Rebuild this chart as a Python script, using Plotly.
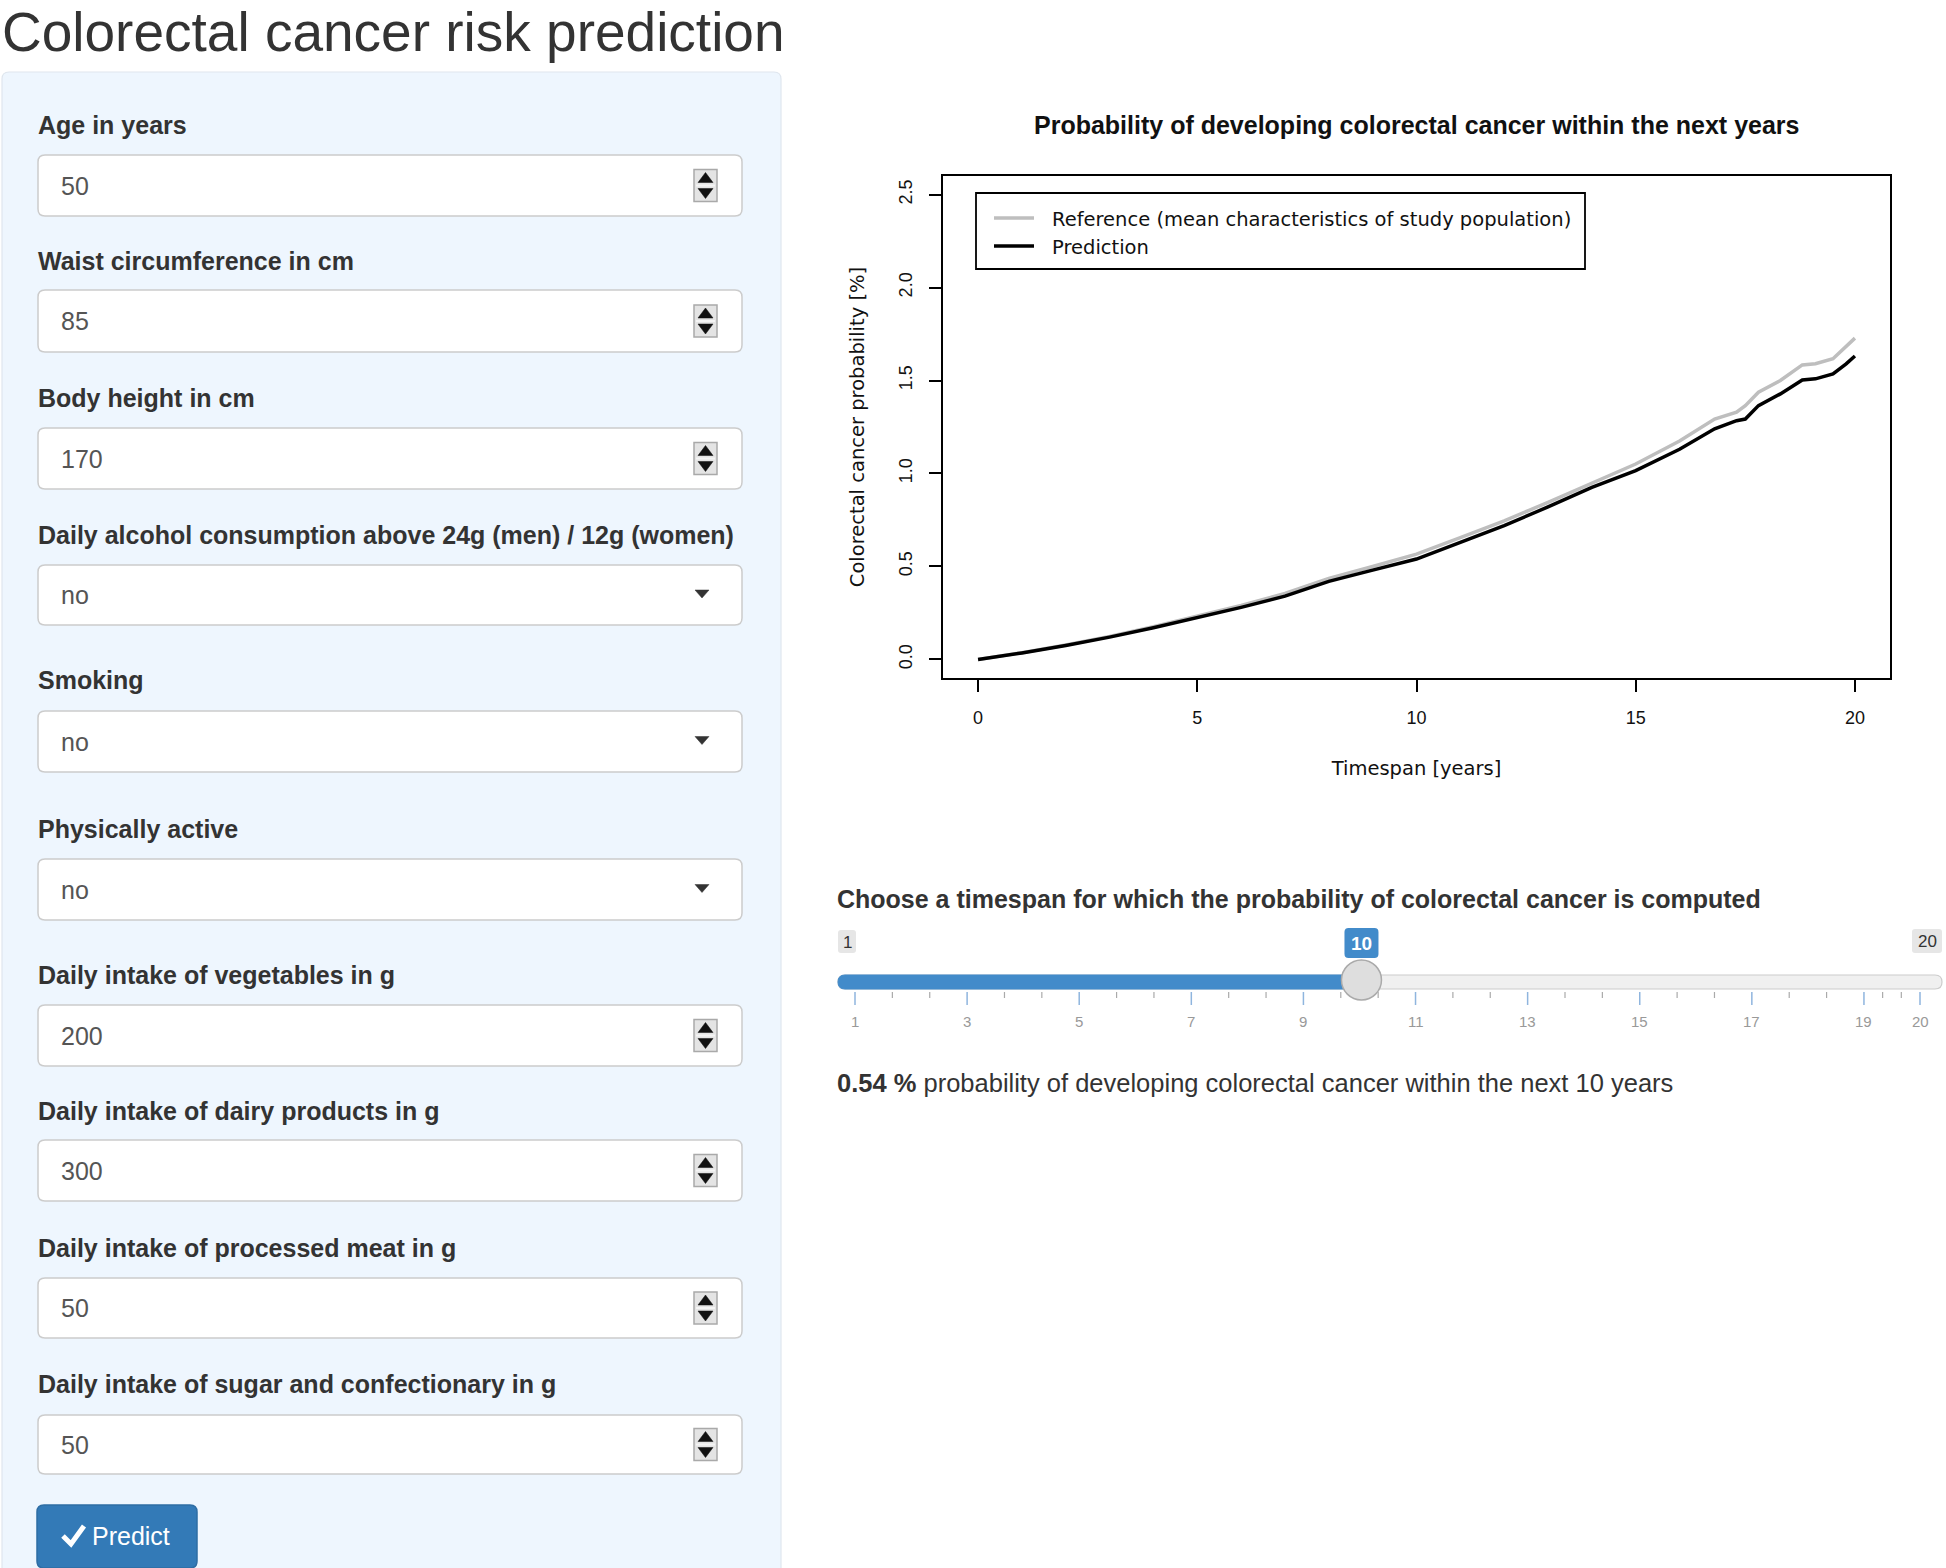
import plotly.graph_objects as go

# ---------------- data ----------------
years = [0, 1, 2, 3, 4, 5, 6, 7, 8, 9, 10, 11, 12, 13, 14, 15, 16, 16.8, 17.3, 17.5, 17.8, 18.3, 18.8, 19.1, 19.5, 19.8, 20]
prediction = [0.00, 0.035, 0.075, 0.12, 0.17, 0.225, 0.28, 0.34, 0.42, 0.48, 0.54, 0.63, 0.72, 0.82, 0.925, 1.015,
              1.13, 1.24, 1.284, 1.293, 1.365, 1.428, 1.503, 1.509, 1.536, 1.59, 1.632]
reference = [0.00, 0.036, 0.078, 0.124, 0.176, 0.232, 0.29, 0.355, 0.435, 0.50, 0.566, 0.655, 0.745, 0.845, 0.95, 1.051,
             1.175, 1.293, 1.33, 1.365, 1.437, 1.50, 1.584, 1.59, 1.617, 1.68, 1.728]
x_ticks = [0, 5, 10, 15, 20]
y_ticks = [0.0, 0.5, 1.0, 1.5, 2.0, 2.5]
y_ticktext = ["0.0", "0.5", "1.0", "1.5", "2.0", "2.5"]

input_labels = ["Age in years", "Waist circumference in cm", "Body height in cm",
                "Daily alcohol consumption above 24g (men) / 12g (women)", "Smoking", "Physically active",
                "Daily intake of vegetables in g", "Daily intake of dairy products in g",
                "Daily intake of processed meat in g", "Daily intake of sugar and confectionary in g"]
input_values = ["50", "85", "170", "no", "no", "no", "200", "300", "50", "50"]
input_kinds = ["num", "num", "num", "select", "select", "select", "num", "num", "num", "num"]

slider_min, slider_max, slider_value = 1, 20, 10
slider_grid = [1, 3, 5, 7, 9, 11, 13, 15, 17, 19, 20]

W, H = 1946, 1568
FONT = "Liberation Sans, Arial, Helvetica, sans-serif"
RFONT = "DejaVu Sans, Liberation Sans, Arial, sans-serif"

fig = go.Figure()
fig.add_trace(go.Scatter(x=years, y=reference, mode="lines", name="Reference (mean characteristics of study population)",
                         line=dict(color="#bebebe", width=3.5), showlegend=False, hoverinfo="skip"))
fig.add_trace(go.Scatter(x=years, y=prediction, mode="lines", name="Prediction",
                         line=dict(color="#000000", width=3.5), showlegend=False, hoverinfo="skip"))
# invisible trace on the pixel overlay axes
fig.add_trace(go.Scatter(x=[0], y=[0], xaxis="x2", yaxis="y2", mode="markers",
                         marker=dict(opacity=0), showlegend=False, hoverinfo="skip"))

shapes = []
annos = []


def P(**kw):
    d = dict(xref="x2", yref="y2", layer="above")
    d.update(kw)
    shapes.append(d)


def rrect(x0, y0, x1, y1, r, fill, line="rgba(0,0,0,0)", lw=1):
    path = (f"M{x0 + r},{y0} L{x1 - r},{y0} Q{x1},{y0} {x1},{y0 + r} L{x1},{y1 - r} Q{x1},{y1} {x1 - r},{y1} "
            f"L{x0 + r},{y1} Q{x0},{y1} {x0},{y1 - r} L{x0},{y0 + r} Q{x0},{y0} {x0 + r},{y0} Z")
    P(type="path", path=path, fillcolor=fill, line=dict(color=line, width=lw))


def text(t, x, y, size, color="#333333", xanchor="left", bold=False, family=FONT, yanchor="middle"):
    if bold:
        t = "<b>" + t + "</b>"
    annos.append(dict(xref="x2", yref="y2", x=x, y=y, text=t, showarrow=False, xanchor=xanchor,
                      yanchor=yanchor, borderpad=0, font=dict(family=family, size=size, color=color)))


# ---------------- page title ----------------
text("Colorectal cancer risk prediction", 1, 0, 55, "#333333", yanchor="top")

# ---------------- sidebar well ----------------
rrect(2, 72, 781, 1600, 7, "#eef6fe", "#dfe6ee", 1.2)

label_y = [125, 261, 398, 535, 680, 829, 975, 1111, 1248, 1384]
box_y = [(155, 216), (290, 352), (428, 489), (565, 625), (711, 772), (859, 920), (1005, 1066), (1140, 1201),
         (1278, 1338), (1415, 1474)]
for lab, val, kind, ly, (by0, by1) in zip(input_labels, input_values, input_kinds, label_y, box_y):
    text(lab, 37, ly, 25, "#333333", bold=True)
    rrect(38, by0, 742, by1, 7, "#ffffff", "#cccccc", 1.5)
    cy = (by0 + by1) / 2
    text(val, 60, cy, 25, "#555555")
    if kind == "num":
        sx0, sx1 = 694, 717
        P(type="rect", x0=sx0, x1=sx1, y0=cy - 16, y1=cy + 16, fillcolor="#e4e4e4",
          line=dict(color="#a9a9a9", width=1.5))
        P(type="line", x0=sx0 + 2, x1=sx1 - 2, y0=cy, y1=cy, line=dict(color="#f4f4f4", width=2))
        mx = (sx0 + sx1) / 2
        P(type="path", path=f"M{sx0 + 4},{cy - 3} L{sx1 - 4},{cy - 3} L{mx},{cy - 13} Z", fillcolor="#111111",
          line=dict(color="#111111", width=0.5))
        P(type="path", path=f"M{sx0 + 4},{cy + 3} L{sx1 - 4},{cy + 3} L{mx},{cy + 13} Z", fillcolor="#111111",
          line=dict(color="#111111", width=0.5))
    else:
        P(type="path", path=f"M{695},{cy - 5} L{709},{cy - 5} L{702},{cy + 3} Z", fillcolor="#333333",
          line=dict(color="#333333", width=0.5))

# Predict button
rrect(37, 1505, 197, 1568, 7, "#337ab7", "#2e6da4", 1.5)
P(type="path", path="M63,1536 L71,1544 L84,1526", line=dict(color="#ffffff", width=5))
text("Predict", 91, 1536, 25, "#ffffff")

# ---------------- legend of plot ----------------
P(type="rect", x0=976, x1=1585, y0=193, y1=269, fillcolor="#ffffff", line=dict(color="#000000", width=1.8))
P(type="line", x0=994, x1=1034, y0=218, y1=218, line=dict(color="#bebebe", width=3.5))
P(type="line", x0=994, x1=1034, y0=246, y1=246, line=dict(color="#000000", width=3.5))
text("Reference (mean characteristics of study population)", 1051, 219, 19.5, "#111111", family=RFONT)
text("Prediction", 1051, 247, 19.5, "#111111", family=RFONT)

# plot title
text("Probability of developing colorectal cancer within the next years", 1416, 125, 25, "#111111",
     xanchor="center", bold=True)

# ---------------- slider ----------------
text("Choose a timespan for which the probability of colorectal cancer is computed", 836, 899, 25, "#333333",
     bold=True)


def sx(v):
    return 855 + (v - slider_min) * (1920 - 855) / (slider_max - slider_min)


# bar
rrect(838, 975, 1942, 989, 7, "#f0f0f0", "#cccccc", 1.2)
rrect(838, 975, sx(slider_value) + 2, 989, 7, "#428bca", "#428bca", 1)
# grid
for i, g in enumerate(slider_grid):
    gx = sx(g)
    P(type="line", x0=gx, x1=gx, y0=992, y1=1005, line=dict(color="#8fb5de", width=1.5))
    text(str(g), gx, 1021, 15, "#999999", xanchor="center")
    if i + 1 < len(slider_grid):
        nxt = slider_grid[i + 1]
        for f in (1 / 3, 2 / 3):
            mx = sx(g + (nxt - g) * f)
            P(type="line", x0=mx, x1=mx, y0=992, y1=998, line=dict(color="#aaaaaa", width=1.2))
# min / max labels
rrect(838, 930, 856, 953, 3, "#e6e6e6")
text(str(slider_min), 847, 942, 17, "#333333", xanchor="center")
rrect(1912, 929, 1942, 953, 3, "#e6e6e6")
text(str(slider_max), 1927, 941, 17, "#333333", xanchor="center")
# value label
hx = sx(slider_value) + 2
rrect(hx - 17, 928, hx + 17, 958, 4, "#428bca")
text(str(slider_value), hx, 943, 19, "#ffffff", xanchor="center", bold=True)
# handle
P(type="circle", x0=hx - 20, x1=hx + 20, y0=960, y1=1000, fillcolor="#dedede", line=dict(color="#aaaaaa", width=1.5))

# result text
val10 = prediction[years.index(slider_value)]
annos.append(dict(xref="x2", yref="y2", x=835, y=1083, showarrow=False, xanchor="left", yanchor="middle",
                  text=f"<b>{val10:.2f} %</b> probability of developing colorectal cancer within the next {slider_value} years",
                  font=dict(family=FONT, size=25.5, color="#333333")))

fig.update_layout(
    width=W, height=H, margin=dict(l=0, r=0, t=0, b=0, pad=0),
    paper_bgcolor="#ffffff", plot_bgcolor="rgba(0,0,0,0)",
    shapes=shapes, annotations=annos, showlegend=False,
    xaxis=dict(domain=[943 / W, 1890 / W], range=[-0.8, 20.8], tickvals=x_ticks, ticks="outside", ticklen=12,
               tickwidth=1.5, tickcolor="#000000", showline=True, linecolor="#000000", linewidth=2, mirror=True,
               showgrid=False, zeroline=False, ticklabelstandoff=10,
               tickfont=dict(family=FONT, size=18, color="#111111"),
               title=dict(text="Timespan [years]", standoff=35, font=dict(family=RFONT, size=19.5, color="#111111")),
               anchor="y", fixedrange=True),
    yaxis=dict(domain=[1 - 678 / H, 1 - 176 / H], range=[-0.1, 2.6], tickvals=y_ticks, ticktext=y_ticktext,
               ticks="outside", ticklen=12, tickwidth=1.5, tickcolor="#000000", showline=True, linecolor="#000000",
               linewidth=2, mirror=True, showgrid=False, zeroline=False, tickangle=-90, ticklabelstandoff=10,
               tickfont=dict(family=FONT, size=18, color="#111111"),
               title=dict(text="Colorectal cancer probability [%]", standoff=26,
                          font=dict(family=RFONT, size=19.5, color="#111111")),
               anchor="x", fixedrange=True),
    xaxis2=dict(domain=[0, 1], range=[0, W], visible=False, anchor="y2", fixedrange=True),
    yaxis2=dict(domain=[0, 1], range=[H, 0], visible=False, anchor="x2", fixedrange=True),
)

fig.write_html("out.html", config={"displayModeBar": False},
               post_script="document.body.style.margin='0';document.body.style.overflow='hidden';")
